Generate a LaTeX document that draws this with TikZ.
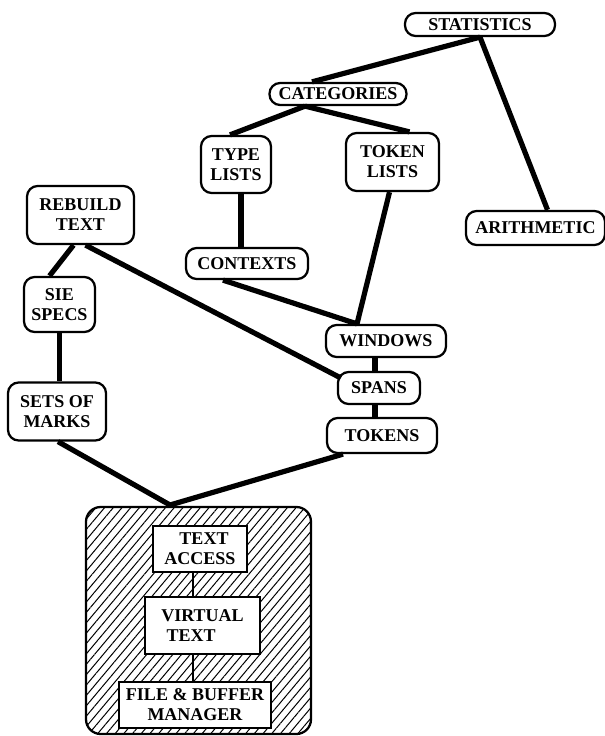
\documentclass[tikz,border=0pt]{standalone}
\usepackage{fontspec}
\setmainfont{Liberation Serif}
\usetikzlibrary{calc,patterns.meta}
\tikzset{
  sz/.style 2 args={minimum width=#1*0.75pt, minimum height=#2*0.75pt},
  mod/.style={draw, line width=1.7pt, rounded corners=8pt, inner sep=0pt, align=center,
    font=\fontsize{13.5}{15}\selectfont\bfseries},
  inner/.style={draw, line width=1.2pt, fill=white, inner sep=0pt, align=center,
    font=\fontsize{13.5}{15}\selectfont\bfseries},
  hatchbox/.style={draw, line width=1.7pt, rounded corners=11pt, inner sep=0pt,
    pattern={Lines[angle=50,distance=5pt,line width=0.75pt]}},
  link/.style={line width=3.9pt},
  thinlink/.style={line width=1.2pt},
}
\begin{document}
\begin{tikzpicture}[x=0.75pt,y=-0.75pt]
\useasboundingbox (0,0) rectangle (605,736);
% modules
\node[mod, sz={150}{23}] (stat) at (480,24.5) {STATISTICS};
\node[mod, sz={137}{22}] (cat) at (338,94) {CATEGORIES};
\node[mod, sz={70}{57}] (type) at (236,164.5) {TYPE\\LISTS};
\node[mod, sz={93}{58}] (token) at (392.5,162) {TOKEN\\LISTS};
\node[mod, sz={139}{34}] (arith) at (535.5,228) {ARITHMETIC};
\node[mod, sz={107}{58}] (rebuild) at (80.5,215) {REBUILD\\TEXT};
\node[mod, sz={122}{31}] (ctx) at (247,263.5) {CONTEXTS};
\node[mod, sz={71}{55}] (sie) at (59.5,304.5) {SIE\\SPECS};
\node[mod, sz={120}{32}] (win) at (386,341) {WINDOWS};
\node[mod, sz={82}{32}] (spans) at (379,388) {SPANS};
\node[mod, sz={98}{58}] (sets) at (57,411.5) {SETS OF\\MARKS};
\node[mod, sz={110}{35}] (tokens) at (382,435.5) {TOKENS};
% core
\node[hatchbox, sz={225}{227}] (core) at (198.5,620.5) {};
\node[inner, sz={94}{46}] (access) at (200,549) {\hspace*{6pt}TEXT\\ACCESS};
\node[inner, sz={115}{57}, align=left] (virt) at (202.5,625.5) {VIRTUAL\\\hspace*{4pt}TEXT};
\node[inner, sz={152}{46}] (fbm) at (195,705) {FILE \& BUFFER\\MANAGER};
\coordinate (j) at (170,505);
% links
\draw[link] (stat.south) -- ($(cat.north)+(-26,0)$);
\draw[link] (stat.south) -- ($(arith.north)+(12,0)$);
\draw[link] ($(cat.south)+(-33,0)$) -- ($(type.north)+(-6,0)$);
\draw[link] ($(cat.south)+(-33,0)$) -- ($(token.north)+(17,0)$);
\draw[link] ($(type.south)+(5,0)$) -- ($(ctx.north)+(-6,0)$);
\draw[link] ($(token.south)+(-3,0)$) -- ($(win.north)+(-29,0)$);
\draw[link] ($(ctx.south)+(-24,0)$) -- ($(win.north)+(-29,0)$);
\draw[link] ($(rebuild.south)+(-7,0)$) -- ($(sie.north)+(-10,0)$);
\draw[link] ($(rebuild.south)+(5,0)$) -- ($(spans.west)+(4,-10)$);
\draw[link] (sie.south) -- (sie.south |- sets.north);
\draw[link] ($(win.south)+(-11,0)$) -- ($(spans.north)+(-4,0)$);
\draw[link] ($(spans.south)+(-4,0)$) -- ($(tokens.north)+(-7,0)$);
\draw[link] ($(sets.south)+(1,0)$) -- (j) -- ($(tokens.south)+(-39,0)$);
\draw[thinlink] (access.south -| 193,0) -- (virt.north -| 193,0);
\draw[thinlink] (virt.south -| 193,0) -- (fbm.north -| 193,0);
\end{tikzpicture}
\end{document}
